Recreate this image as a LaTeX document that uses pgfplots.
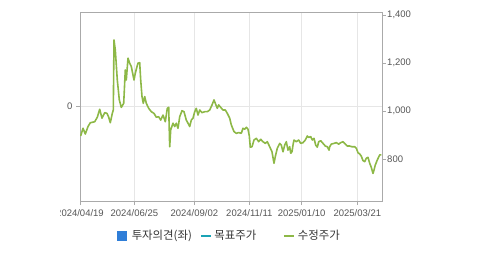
\documentclass[border=0pt]{standalone}
\usepackage{pgfplots}
\pgfplotsset{compat=1.18}
\usepackage{fontspec}
\setmainfont{Liberation Sans}
\newfontfamily\kr{Noto Sans CJK KR}
\definecolor{axgray}{HTML}{AAAAAA}
\definecolor{gridgray}{HTML}{E6E6E6}
\definecolor{lblgray}{HTML}{555555}
\definecolor{lgreen}{HTML}{8DB847}
\definecolor{lblue}{HTML}{2F7ED8}
\definecolor{lteal}{HTML}{1AA3B5}
\begin{document}
\begin{tikzpicture}
\path[use as bounding box] (0,0) rectangle (479pt,255pt);
\pgfplotsset{
  base/.style={
    scale only axis, width=302.7pt, height=188.7pt,
    at={(80pt,54pt)}, anchor=south west,
    xmin=80, xmax=382.7,
    axis line style={axgray, line width=0.8pt},
    tick style={axgray, line width=0.8pt},
    tick align=outside, major tick length=4pt,
    ticklabel style={font=\fontsize{9.5}{11}\selectfont, text=lblgray},
    /pgf/number format/assume math mode=true,
  }
}
\begin{axis}[base,
  ymin=-1, ymax=0.988,
  axis lines=box,
  xtick={80,134.3,194.3,249.3,301.7,357.3},
  xticklabels={2024/04/19,2024/06/25,2024/09/02,2024/11/11,2025/01/10,2025/03/21},
  xtick pos=bottom,
  xticklabel style={yshift=-1pt},
  xmajorgrids, ymajorgrids,
  grid style={gridgray, line width=0.8pt},
  ytick={0}, ytick pos=left,
  legend style={at={(0.49,-0.185)}, anchor=center, draw=none, fill=none,
    font=\kr\fontsize{11.4}{13}\selectfont, text=black!80,
    /tikz/every even column/.append style={column sep=0pt},
    /tikz/every odd column/.append style={column sep=0pt},
    nodes={inner xsep=0pt, inner ysep=1pt},
    inner sep=0pt, row sep=0pt},
  legend columns=3,
]
\addlegendimage{legend image code/.code={\fill[lblue] (0pt,-4.5pt) rectangle (9pt,4.5pt);}}
\addlegendentry{\kern5.5pt 투자의견(좌)\kern8pt}
\addlegendimage{legend image code/.code={\draw[lteal, line width=2pt] (0pt,0pt) -- (10pt,0pt);}}
\addlegendentry{\kern2.5pt 목표주가\kern26.5pt}
\addlegendimage{legend image code/.code={\draw[lgreen, line width=2pt] (0pt,0pt) -- (10pt,0pt);}}
\addlegendentry{\kern3pt 수정주가}
\end{axis}
\begin{axis}[base,
  ymin=625, ymax=1411,
  axis x line=none,
  axis y line*=right,
  ytick={800,1000,1200,1400},
  yticklabel style={xshift=-2pt},
  /pgf/number format/1000 sep={,},
  major tick length=3pt,
]
\addplot[lgreen, line width=1.6pt, line join=round] coordinates {
(80.7,896) (83,928) (85.3,904) (88,935) (90.3,951) (94.7,955) (97.3,974) (99.7,1007)
(102,970) (104.7,993) (107,990) (108.7,974) (110.3,951) (112.3,990) (113.3,1004)
(114,1296) (115.3,1254) (117.3,1129) (119.3,1046) (121.3,1015) (123.7,1032) (125.3,1171)
(126.3,1129) (128,1220) (129.7,1199) (131.3,1185) (134,1129) (135.3,1157) (137,1185)
(138,1199) (139.7,1201) (140.7,1129) (142,1060) (143.3,1032) (144.7,1060) (146.3,1032)
(148.7,1011) (151.3,997) (154,990) (156.3,974) (158.7,976) (160.7,962) (163,983)
(165.3,955) (167.3,1011) (168.7,1015) (169.7,851) (170.7,921) (173,949) (174.7,935)
(176.3,949) (178,928) (179.7,976) (182,1001) (184,997) (186.3,962) (188,949) (189.7,935)
(191.3,962) (193,970) (194.7,997) (196.3,1011) (198,983) (199.7,1004) (202,993)
(204.7,997) (207.3,997) (209.7,1004) (212,1025) (214,1046) (215.3,1032) (217.3,1011)
(218.7,1025) (220.7,1015) (223,1004) (225.3,1004) (227.3,990) (229.7,970) (231.3,942)
(234,914) (236.3,907) (238.7,910) (241.3,907) (243,928) (244.7,924) (246.3,932)
(248,924) (249.3,896) (250.3,849) (252,851) (254,879) (256.3,886) (258.7,872)
(260.7,882) (263,872) (265.3,865) (267.3,872) (269.7,851) (272,830) (274,782)
(275.3,810) (277.3,845) (279.7,865) (281.3,858) (283,830) (284.7,858) (286.3,872)
(288,837) (289.7,851) (290.7,824) (292,830) (293,858) (294,879) (296.3,872)
(298.7,879) (300.7,865) (303,868) (305.3,879) (307.3,896) (308.7,890) (310.7,893)
(312.3,879) (314,886) (315.7,858) (317.3,849) (318.7,872) (320.7,876) (323,865)
(325.3,854) (327.3,851) (329,837) (329.7,851) (331.3,862) (334,865) (336.3,868)
(338.7,862) (340.7,868) (343,872) (344.7,865) (347.3,854) (349.7,854) (352,851)
(354.7,851) (356.3,845) (358,826) (359.7,821) (361.3,812) (363,793) (364.7,789)
(366.3,803) (368,807) (369.7,782) (371.3,765) (373,740) (374,754) (375.3,775)
(377.3,796) (379.7,817) (381.3,817)
};
\end{axis}
\fill[white] (0pt,0pt) rectangle (59.5pt,50pt);
\end{tikzpicture}
\end{document}
